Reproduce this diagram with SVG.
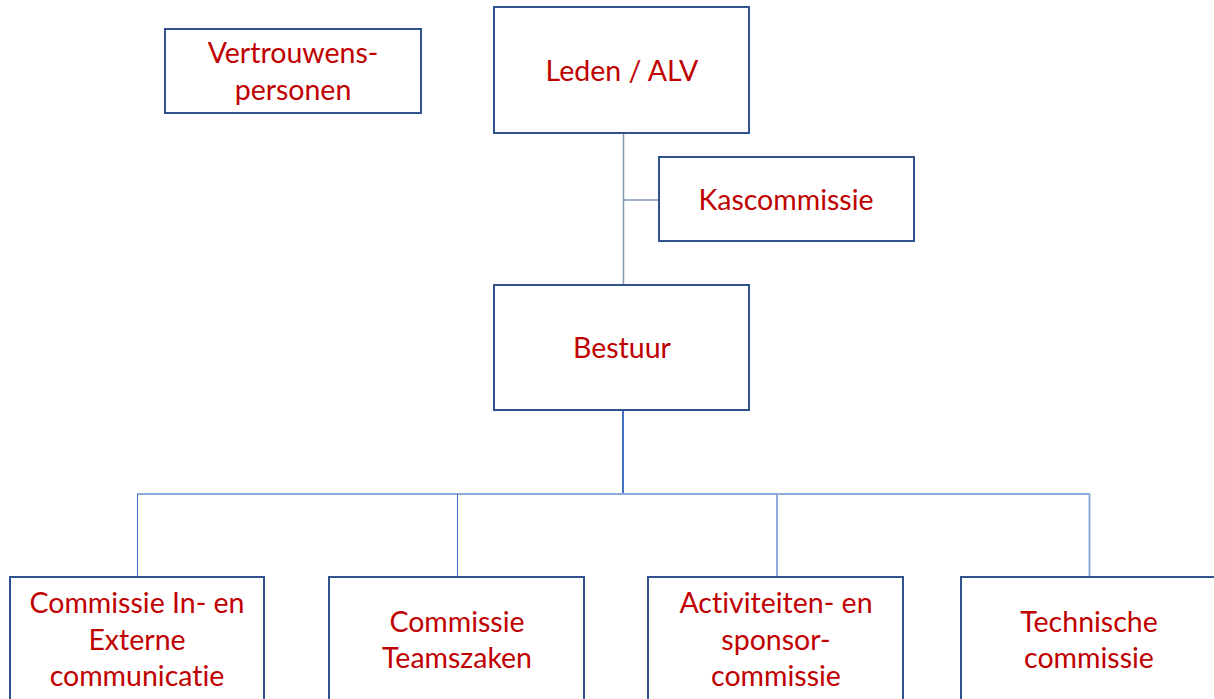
<svg xmlns="http://www.w3.org/2000/svg" width="1214" height="699" viewBox="0 0 1214 699">
<style>
.box{fill:#ffffff;stroke:#2F528F;stroke-width:2}
.t{font-family:Lato,"Liberation Sans",sans-serif;font-size:28.5px;fill:#C00000;text-anchor:middle;font-variant-ligatures:none}
.c1{stroke:#8497B0;stroke-width:1.5;fill:none}
.c2{stroke:#4472C4;stroke-width:2;fill:none}
.c3{stroke:#8FAADC;stroke-width:2;fill:none}
.c4{stroke:#4472C4;stroke-width:1;fill:none}
</style>
<rect width="1214" height="699" fill="#ffffff"/>
<g id="connectors">
<line class="c1" x1="623.5" y1="133" x2="623.5" y2="285"/>
<line class="c1" x1="623.5" y1="200" x2="659" y2="200"/>
<line class="c2" x1="623" y1="410" x2="623" y2="494"/>
<line class="c3" x1="137" y1="494" x2="1090" y2="494"/>
<line class="c4" x1="137.5" y1="494" x2="137.5" y2="577"/>
<line class="c4" x1="457.5" y1="494" x2="457.5" y2="577"/>
<line class="c3" x1="777" y1="494" x2="777" y2="577"/>
<line class="c3" x1="1089.5" y1="494" x2="1089.5" y2="577"/>
</g>
<g id="vertrouwenspersonen">
<rect class="box" x="165" y="29" width="256" height="84"/>
<text class="t" x="293" y="63">Vertrouwens-</text>
<text class="t" x="293" y="100">personen</text>
</g>
<g id="leden">
<rect class="box" x="494" y="7" width="255" height="126"/>
<text class="t" x="622" y="81">Leden / ALV</text>
</g>
<g id="kascommissie">
<rect class="box" x="659" y="157" width="255" height="84"/>
<text class="t" x="786" y="210">Kascommissie</text>
</g>
<g id="bestuur">
<rect class="box" x="494" y="285" width="255" height="125"/>
<text class="t" x="622" y="358">Bestuur</text>
</g>
<g id="communicatie">
<rect class="box" x="10" y="577" width="254" height="140"/>
<text class="t" x="137" y="613">Commissie In- en</text>
<text class="t" x="137" y="650">Externe</text>
<text class="t" x="137" y="686">communicatie</text>
</g>
<g id="teamszaken">
<rect class="box" x="329" y="577" width="255" height="140"/>
<text class="t" x="457" y="632">Commissie</text>
<text class="t" x="457" y="668">Teamszaken</text>
</g>
<g id="activiteiten">
<rect class="box" x="648" y="577" width="255" height="140"/>
<text class="t" x="776" y="613">Activiteiten- en</text>
<text class="t" x="776" y="650">sponsor-</text>
<text class="t" x="776" y="686">commissie</text>
</g>
<g id="technische">
<rect class="box" x="961" y="577" width="256" height="140"/>
<text class="t" x="1089" y="632">Technische</text>
<text class="t" x="1089" y="668">commissie</text>
</g>
</svg>
